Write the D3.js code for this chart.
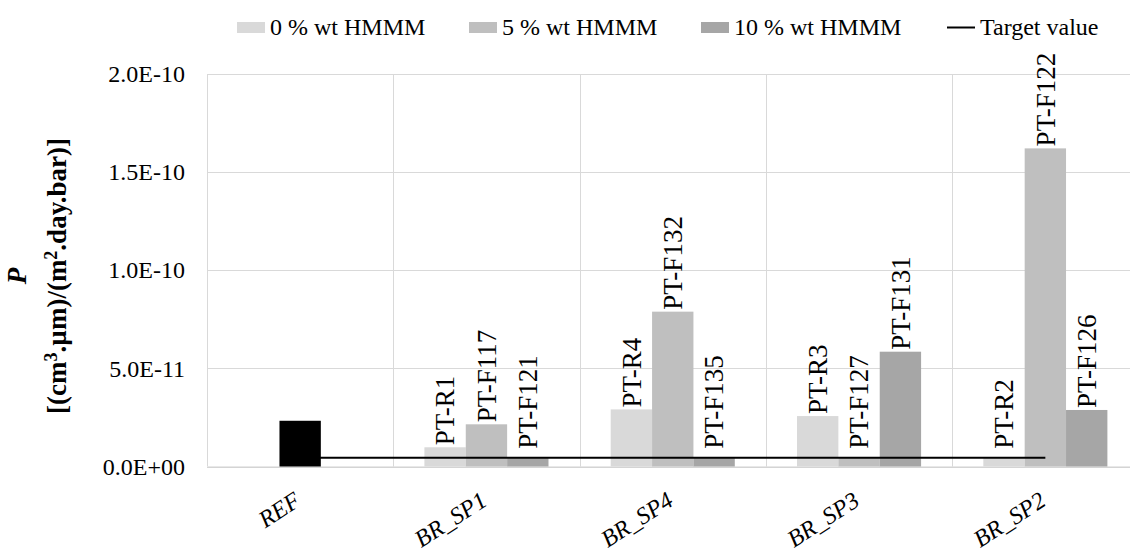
<!DOCTYPE html>
<html>
<head>
<meta charset="utf-8">
<script src="https://cdn.jsdelivr.net/npm/d3@7"></script>
<style>
  html, body { margin: 0; padding: 0; background: #fff; }
  svg { display: block; }
  text { font-family: "Liberation Serif", "Times New Roman", serif; fill: #000; }
</style>
</head>
<body>
<svg id="chart" width="1130" height="551" font-family='"Liberation Serif", "Times New Roman", serif'></svg>
<script>
// ---- data ----
const categories = ["REF", "BR_SP1", "BR_SP4", "BR_SP3", "BR_SP2"];
const seriesNames = ["0 % wt HMMM", "5 % wt HMMM", "10 % wt HMMM"];
const refValues = [2.33e-11, null, null, null, null];
const values0 = [null, 9.8e-12, 2.91e-11, 2.57e-11, 4.5e-12];
const values5 = [null, 2.15e-11, 7.89e-11, 4.5e-12, 1.621e-10];
const values10 = [null, 4.5e-12, 4.5e-12, 5.85e-11, 2.88e-11];
const labels0 = [null, "PT-R1", "PT-R4", "PT-R3", "PT-R2"];
const labels5 = [null, "PT-F117", "PT-F132", "PT-F127", "PT-F122"];
const labels10 = [null, "PT-F121", "PT-F135", "PT-F131", "PT-F126"];
const targetValues = [4.5e-12, 4.5e-12, 4.5e-12, 4.5e-12, 4.5e-12];
const targetName = "Target value";
const yTicks = [0, 5e-11, 1e-10, 1.5e-10, 2e-10];
const yTickLabels = ["0.0E+00", "5.0E-11", "1.0E-10", "1.5E-10", "2.0E-10"];

// ---- styles ----
const colors = ["#d9d9d9", "#bfbfbf", "#a6a6a6"];
const refColor = "#000000";
const gridColor = "#d9d9d9";
const serif = '"Liberation Serif", "Times New Roman", serif';

(function () {
const svg = d3.select("#chart");
const pLeft = 207, pRight = 1138.5, pTop = 74, pBottom = 466.5;

const x = d3.scaleBand().domain(categories).range([pLeft, pRight]).padding(0);
const bw = x.bandwidth();
const groupFrac = 0.666;
const x1 = d3.scaleBand().domain(seriesNames)
  .range([bw * (1 - groupFrac) / 2, bw * (1 + groupFrac) / 2]).padding(0);
const y = d3.scaleLinear().domain([0, 2e-10]).range([pBottom, pTop]);

// gridlines horizontal
svg.append("g").selectAll("line").data(yTicks).join("line")
  .attr("x1", pLeft).attr("x2", pRight)
  .attr("y1", d => Math.round(y(d)) + 0.5).attr("y2", d => Math.round(y(d)) + 0.5)
  .attr("stroke", gridColor).attr("stroke-width", 1);
// vertical category boundaries
const bounds = categories.map(c => x(c)).concat([pRight]);
svg.append("g").selectAll("line").data(bounds).join("line")
  .attr("x1", d => Math.round(d) + 0.5).attr("x2", d => Math.round(d) + 0.5)
  .attr("y1", pTop).attr("y2", pBottom)
  .attr("stroke", gridColor).attr("stroke-width", 1);

// y axis
const yAxis = d3.axisLeft(y).tickValues(yTicks)
  .tickFormat((d, i) => yTickLabels[i]).tickSize(0).tickPadding(22);
const gy = svg.append("g").attr("transform", `translate(${pLeft},0)`).call(yAxis)
  .attr("font-family", serif);
gy.select(".domain").remove();
gy.selectAll("text").attr("font-size", 24)
  .style("font-family", serif).attr("fill", "#000");

// x axis
const xAxis = d3.axisBottom(x).tickSize(0);
const gx = svg.append("g").attr("transform", `translate(0,${pBottom})`).call(xAxis)
  .attr("font-family", serif);
gx.select(".domain").attr("stroke", "#d0d0d0");
gx.selectAll("text")
  .attr("font-size", 24).attr("font-style", "italic")
  .style("font-family", serif).attr("fill", "#000")
  .attr("text-anchor", "end")
  .attr("x", 2).attr("y", 38).attr("dy", 0)
  .attr("transform", "rotate(-33 2 38)");

// bars
const seriesValues = [values0, values5, values10];
const seriesLabels = [labels0, labels5, labels10];
const barData = [];
seriesValues.forEach((vals, s) => {
  vals.forEach((v, i) => {
    if (v !== null) barData.push({cat: categories[i], s, v, label: seriesLabels[s][i]});
  });
});
svg.append("g").selectAll("rect").data(barData).join("rect")
  .attr("x", d => x(d.cat) + x1(seriesNames[d.s]))
  .attr("width", x1.bandwidth())
  .attr("y", d => y(d.v))
  .attr("height", d => y(0) - y(d.v))
  .attr("fill", d => colors[d.s]);

// REF bar (black, centered)
const refData = refValues.map((v, i) => ({cat: categories[i], v})).filter(d => d.v !== null);
svg.append("g").selectAll("rect").data(refData).join("rect")
  .attr("x", d => x(d.cat) + x1(seriesNames[1]))
  .attr("width", x1.bandwidth())
  .attr("y", d => y(d.v))
  .attr("height", d => y(0) - y(d.v))
  .attr("fill", refColor);

// target line
const line = d3.line().x((d, i) => x(categories[i]) + bw / 2).y(d => y(d));
svg.append("path").datum(targetValues)
  .attr("d", line).attr("fill", "none").attr("stroke", "#000").attr("stroke-width", 2);

// data labels
const labelFloor = 8e-12;
svg.append("g").selectAll("text").data(barData).join("text")
  .attr("transform", d => {
    const cx = x(d.cat) + x1(seriesNames[d.s]) + x1.bandwidth() / 2;
    const cy = y(Math.max(d.v, labelFloor)) - 2;
    return `translate(${cx},${cy}) rotate(-90)`;
  })
  .attr("dy", "0.34em")
  .attr("text-anchor", "start")
  .attr("font-size", 27)
  .text(d => d.label);

// y-axis title
const title = svg.append("g").attr("transform", "translate(0,276)");
title.append("text")
  .attr("transform", "translate(26,0) rotate(-90)")
  .attr("text-anchor", "middle")
  .attr("font-size", 27).attr("font-weight", "bold").attr("font-style", "italic")
  .text("P");
const t2 = title.append("text")
  .attr("transform", "translate(66,0) rotate(-90)")
  .attr("text-anchor", "middle")
  .attr("font-size", 27).attr("font-weight", "bold");
t2.append("tspan").text("[(cm");
t2.append("tspan").attr("font-size", 18).attr("dy", -9).text("3");
t2.append("tspan").attr("dy", 9).text(".µm)/(m");
t2.append("tspan").attr("font-size", 18).attr("dy", -9).text("2");
t2.append("tspan").attr("dy", 9).text(".day.bar)]");

// legend
const legendX = [237, 469, 701, 947];
const legend = svg.append("g");
seriesNames.forEach((name, i) => {
  legend.append("rect").attr("x", legendX[i]).attr("y", 22).attr("width", 28).attr("height", 11)
    .attr("fill", colors[i]);
  legend.append("text").attr("x", legendX[i] + 33).attr("y", 35).attr("font-size", 24).text(name);
});
legend.append("line").attr("x1", legendX[3]).attr("x2", legendX[3] + 28)
  .attr("y1", 27.5).attr("y2", 27.5).attr("stroke", "#000").attr("stroke-width", 2);
legend.append("text").attr("x", legendX[3] + 33).attr("y", 35).attr("font-size", 24).text(targetName);
})();
</script>
</body>
</html>
